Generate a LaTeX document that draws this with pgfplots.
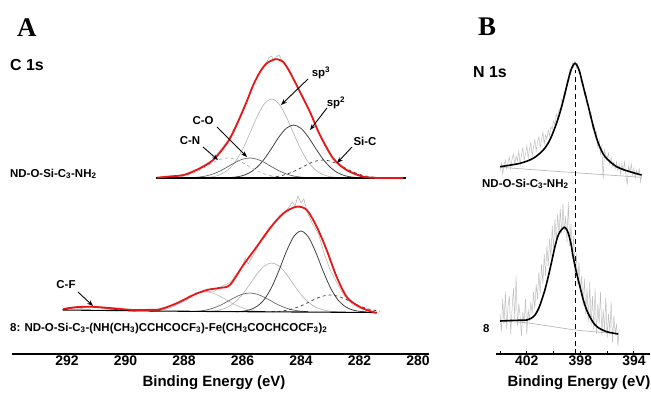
\documentclass[border=0pt]{standalone}
\usepackage{fontspec}
\setmainfont{Liberation Sans}
\newfontfamily\serifbf{Liberation Serif}
\usepackage{pgfplots}
\pgfplotsset{compat=1.18}
\usetikzlibrary{arrows.meta}
\definecolor{fitred}{RGB}{232,22,22}
\begin{document}
\begin{tikzpicture}[x=1bp,y=1bp]
\useasboundingbox (0,0) rectangle (651,393);
% ---------------- Panel A ----------------
\begin{axis}[
  at={(12bp,39bp)}, anchor=south west, scale only axis,
  width=417bp, height=344bp,
  xmin=279.62, xmax=293.88, x dir=reverse,
  ymin=0, ymax=344,
  axis y line=none, axis x line*=bottom,
  x axis line style={-, line width=1.4bp},
  xtick={280,282,...,292}, major tick length=0pt,
  /pgf/number format/assume math mode=true,
  /pgf/number format/1000 sep={},
  xticklabel style={font=\fontsize{14}{16}\selectfont\bfseries, inner sep=1.5bp},
  clip=false,
]
% raw data (top)
\addplot[gray!55, line width=0.6bp] coordinates {(288.9,176.5)(288.5,177.6)(288.0,179.6)(287.5,185.6)(287.0,194.8)(286.5,213.2)(286.2,230.2)(285.86,253)(285.63,269.5)(285.4,282.4)(285.2,290.4)(285.1,296)(285.0,298)(284.95,294)(284.85,297)(284.75,299)(284.65,294)(284.55,290)(284.38,282.5)(284.03,262.6)(283.69,242.3)(283.35,219.6)(282.9,196.2)(282.44,184.6)(281.87,177.5)(281.3,176.3)(280.5,176)};
% components (top)
\addplot[gray!55, line width=0.7bp, smooth] coordinates {(287.25,176.5)(287.0,177.3)(286.75,179.5)(286.5,184)(286.25,192)(286.0,204.4)(285.75,220.5)(285.5,237.2)(285.25,250.1)(285.0,255)(284.75,250.1)(284.5,237.2)(284.25,220.5)(284.0,204.4)(283.75,192)(283.5,184)(283.25,179.5)(283.0,177.3)(282.75,176.5)};
\addplot[black!75, line width=0.8bp, smooth] coordinates {(286.5,176.3)(286.25,176.9)(286.0,178.3)(285.75,181.4)(285.5,186.8)(285.25,195.1)(285.0,205.8)(284.75,217.1)(284.5,225.7)(284.25,229)(284.0,225.7)(283.75,217.1)(283.5,205.8)(283.25,195.1)(283.0,186.8)(282.75,181.4)(282.5,178.3)(282.25,176.9)(282.0,176.3)};
\addplot[black!60, line width=0.7bp, smooth] coordinates {(287.75,176.3)(287.5,176.9)(287.25,178)(287.0,180.1)(286.75,183.2)(286.5,187.3)(286.25,191.5)(286.0,194.8)(285.75,196)(285.5,194.8)(285.25,191.5)(285.0,187.3)(284.75,183.2)(284.5,180.1)(284.25,178)(284.0,176.9)(283.75,176.3)};
\addplot[gray!60, line width=0.7bp, smooth, dashed] coordinates {(288.5,176.3)(288.25,176.9)(288.0,178)(287.75,180.1)(287.5,183.2)(287.25,187.3)(287.0,191.5)(286.75,194.8)(286.5,196)(286.25,194.8)(286.0,191.5)(285.75,187.3)(285.5,183.2)(285.25,180.1)(285.0,178)(284.75,176.9)(284.5,176.3)};
\addplot[black!75, line width=0.7bp, smooth, dashed] coordinates {(285.25,176.3)(285.0,176.8)(284.75,177.8)(284.5,179.7)(284.25,182.5)(284.0,186.1)(283.75,190)(283.5,192.9)(283.25,194)(283.0,192.9)(282.75,190)(282.5,186.1)(282.25,182.5)(282.0,179.7)(281.75,177.8)(281.5,176.8)(281.25,176.3)};
\addplot[black, line width=1.1bp] coordinates {(288.95,176)(280.4,176)};
% envelope (top)
\addplot[fitred, line width=1.8bp, smooth] coordinates {(288.93,176.3)(288.5,177.5)(288.0,179)(287.5,185)(287.0,194)(286.5,212)(286.2,229)(285.86,252)(285.63,269)(285.4,282)(285.17,290.7)(284.89,294.7)(284.72,294)(284.6,292)(284.38,282)(284.03,262)(283.69,242)(283.35,219)(282.9,195.7)(282.44,184)(281.87,177.3)(281.3,176)(280.5,176)};
% raw data (bottom)
\addplot[gray!55, line width=0.6bp] coordinates {(292.1,44)(291.8,46)(291.5,45.5)(291.2,47.5)(290.9,46)(290.6,45)(290.3,43)(290.0,44.5)(289.7,42.5)(289.4,44)(289.1,43)(288.8,45)(288.5,46)(288.2,50)(287.9,54)(287.6,61)(287.3,63)(287.0,62)(286.8,66)(286.6,69)(286.4,72)(286.2,80)(286.0,88)(285.9,96)(285.8,90)(285.6,100)(285.4,112)(285.2,118)(285.0,128)(284.8,134)(284.6,140)(284.4,147)(284.3,152)(284.2,148)(284.1,158)(284.0,151)(283.9,155)(283.8,143)(283.6,130)(283.4,120)(283.2,100)(283.0,84)(282.8,73)(282.6,62)(282.4,54)(282.2,49)(282.0,46)(281.8,44)(281.5,42)(281.4,41)};
% components (bottom)
\addplot[gray!50, line width=0.7bp, smooth] coordinates {(289.25,42.3)(289.0,42.9)(288.75,44)(288.5,46.1)(288.25,49.2)(288.0,53.3)(287.75,57.5)(287.5,60.8)(287.25,62)(287.0,60.8)(286.75,57.5)(286.5,53.3)(286.25,49.2)(286.0,46.1)(285.75,44)(285.5,42.9)(285.25,42.3)};
\addplot[gray!55, line width=0.7bp, smooth] coordinates {(287.25,42.3)(287.0,42.8)(286.75,44.2)(286.5,46.9)(286.25,51.9)(286.0,59.6)(285.75,69.6)(285.5,80)(285.25,88)(285.0,91)(284.75,88)(284.5,80)(284.25,69.6)(284.0,59.6)(283.75,51.9)(283.5,46.9)(283.25,44.2)(283.0,42.8)(282.75,42.3)};
\addplot[black!60, line width=0.7bp, smooth] coordinates {(287.75,42.3)(287.5,42.8)(287.25,43.9)(287.0,45.9)(286.75,48.8)(286.5,52.7)(286.25,56.7)(286.0,59.8)(285.75,61)(285.5,59.8)(285.25,56.7)(285.0,52.7)(284.75,48.8)(284.5,45.9)(284.25,43.9)(284.0,42.8)(283.75,42.3)};
\addplot[black!75, line width=0.8bp, smooth] coordinates {(286.25,42.2)(286.0,42.7)(285.75,44.2)(285.5,47.7)(285.25,54.7)(285.0,66.8)(284.75,83.6)(284.5,102.3)(284.25,117.2)(284.0,123)(283.75,117.2)(283.5,102.3)(283.25,83.6)(283.0,66.8)(282.75,54.7)(282.5,47.7)(282.25,44.2)(282.0,42.7)(281.75,42.2)};
\addplot[black!75, line width=0.7bp, smooth, dashed] coordinates {(285.0,42.3)(284.75,42.7)(284.5,43.7)(284.25,45.5)(284.0,48.1)(283.75,51.6)(283.5,55.2)(283.25,57.9)(283.0,59)(282.75,57.9)(282.5,55.2)(282.25,51.6)(282.0,48.1)(281.75,45.5)(281.5,43.7)(281.3,42.8)};
\addplot[black!80, line width=0.8bp, smooth] coordinates {(292.15,44.3)(291.75,46.3)(291.25,47.3)(290.75,46.2)(290.25,44.2)(289.75,43.4)};
\addplot[black, line width=1.1bp] coordinates {(292.15,44)(290.5,43.5)(289,43)(287,42.5)(284,42)(281.4,41.5)};
% envelope (bottom)
\addplot[fitred, line width=1.8bp, smooth] coordinates {(292.13,45)(291.7,46.8)(291.21,47.3)(290.8,46.6)(290.42,45.7)(289.73,44)(289.2,44.2)(288.82,44.7)(288.25,50.7)(287.68,59)(287.22,64)(286.8,66)(286.43,69)(285.97,89)(285.51,107.3)(285.06,125.7)(284.6,140.7)(284.15,147.3)(283.8,144)(283.46,127.3)(283.12,104)(282.78,77.3)(282.44,57.3)(282.1,49)(281.75,44)(281.41,41)};
\end{axis}
% ---------------- Panel B ----------------
\begin{axis}[
  at={(496bp,39bp)}, anchor=south west, scale only axis,
  width=154bp, height=344bp,
  xmin=392.8, xmax=404.3, x dir=reverse,
  ymin=0, ymax=344,
  axis y line=none, axis x line*=bottom,
  x axis line style={-, line width=1.4bp},
  xtick={394,396,...,404}, xticklabels={394,,398,,402,},
  tick align=inside, major tick length=3bp,
  every tick/.style={black, line width=1bp},
  xticklabel style={font=\fontsize{14}{16}\selectfont\bfseries, inner sep=1.5bp},
  clip=false,
]
% raw (top)
\addplot[gray!50, line width=0.5bp] coordinates {(404.0,183)(403.9,191)(403.8,180)(403.7,189)(403.6,194)(403.5,185)(403.4,192)(403.3,197)(403.2,186)(403.1,195)(403.0,200)(402.9,190)(402.8,198)(402.7,193)(402.6,203)(402.5,189)(402.4,199)(402.3,206)(402.2,194)(402.1,200)(402.0,208)(401.9,196)(401.8,205)(401.7,211)(401.6,198)(401.5,207)(401.4,214)(401.3,203)(401.2,212)(401.1,217)(401.0,207)(400.9,214)(400.8,222)(400.7,210)(400.6,219)(400.5,215)(400.4,224)(400.3,218)(400.2,227)(400.1,225)(400.0,233)(399.9,229)(399.8,240)(399.7,236)(399.6,245)(399.5,243)(399.4,255)(399.3,252)(399.2,263)(399.1,259)(399.0,272)(398.9,276)(398.8,284)(398.7,280)(398.6,291)(398.5,287)(398.4,293)(398.3,286)(398.2,290)(398.1,281)(398.0,283)(397.9,270)(397.8,272)(397.7,259)(397.6,262)(397.5,249)(397.4,250)(397.3,238)(397.2,241)(397.1,226)(397.0,230)(396.9,218)(396.8,222)(396.7,207)(396.6,214)(396.5,200)(396.4,208)(396.3,175)(396.2,204)(396.1,199)(396.0,196)(395.9,201)(395.8,189)(395.7,196)(395.6,188)(395.5,192)(395.4,185)(395.3,192)(395.2,183)(395.1,190)(395.0,180)(394.9,190)(394.8,183)(394.7,192)(394.6,178)(394.5,170)(394.4,188)(394.3,182)(394.2,190)(394.1,179)(394.0,186)(393.9,176)(393.8,184)(393.7,179)(393.6,185)(393.5,172)(393.4,181)};
\addplot[gray!55, line width=0.7bp] coordinates {(404.0,186.7)(398.4,181.3)(393.45,176.7)};
\addplot[black, line width=1.6bp, smooth] coordinates {(404.0,187.3)(402.5,190.7)(401.52,195.7)(400.77,204)(400.28,214)(399.78,230.7)(399.4,247.3)(399.03,267.3)(398.7,284)(398.4,290.7)(398.1,284)(397.78,267.3)(397.4,247.3)(397.03,227.3)(396.66,210.7)(396.16,197.3)(395.29,187.3)(394.3,182.3)(393.43,179)};
% raw (bottom)
\addplot[gray!50, line width=0.5bp] coordinates {(404.0,40)(403.9,22)(403.8,55)(403.7,30)(403.6,62)(403.5,25)(403.4,48)(403.3,58)(403.2,20)(403.1,45)(403.0,66)(402.9,35)(402.8,78)(402.7,28)(402.6,50)(402.5,38)(402.4,18)(402.3,42)(402.2,30)(402.1,55)(402.0,20)(401.9,45)(401.8,33)(401.7,52)(401.6,40)(401.5,62)(401.4,45)(401.3,70)(401.2,55)(401.1,82)(401.0,60)(400.9,90)(400.8,70)(400.7,100)(400.6,78)(400.5,108)(400.4,88)(400.3,115)(400.2,96)(400.1,128)(400.0,105)(399.9,135)(399.8,112)(399.7,140)(399.6,118)(399.5,145)(399.4,120)(399.3,150)(399.2,122)(399.1,138)(399.0,112)(398.9,152)(398.8,108)(398.7,130)(398.6,95)(398.5,118)(398.4,80)(398.3,100)(398.2,70)(398.1,92)(398.0,62)(397.9,78)(397.8,48)(397.7,75)(397.6,40)(397.5,66)(397.4,32)(397.3,72)(397.2,28)(397.1,58)(397.0,24)(396.9,66)(396.8,20)(396.7,50)(396.6,30)(396.5,62)(396.4,18)(396.3,45)(396.2,24)(396.1,57)(396.0,16)(395.9,40)(395.8,22)(395.7,52)(395.6,12)(395.5,38)(395.4,20)(395.3,30)(395.2,8)(395.1,25)};
\addplot[gray!55, line width=0.7bp] coordinates {(404.0,33)(402.0,31.3)(398.4,24)(395.17,20)};
\addplot[black, line width=1.6bp, smooth] coordinates {(404.0,33)(403.0,33.6)(402.0,34)(401.7,35.5)(401.39,39)(401.1,46)(400.89,54)(400.65,64)(400.4,77.3)(400.15,92)(399.9,107.3)(399.7,117)(399.52,122.3)(399.22,126.7)(399.05,125)(398.9,120.7)(398.7,110)(398.54,97.3)(398.3,82)(398.03,67.3)(397.8,55)(397.53,44)(397.2,35)(396.9,29)(396.5,25)(396.04,22.3)(395.6,21)(395.17,20)};
% reference line
\addplot[black, line width=1.5bp, dash pattern=on 5bp off 3.5bp] coordinates {(398.35,0)(398.35,284)};
\end{axis}
% ---------------- Text ----------------
\node[anchor=base west, inner sep=0] at (17,357) {\fontsize{27}{30}\selectfont\serifbf\bfseries A};
\node[anchor=base west, inner sep=0] at (478,358) {\fontsize{27}{30}\selectfont\serifbf\bfseries B};
\node[anchor=base west, inner sep=0] at (10,323) {\fontsize{16}{19}\selectfont\bfseries C 1s};
\node[anchor=base west, inner sep=0] at (473,316) {\fontsize{16}{19}\selectfont\bfseries N 1s};
\begin{scope}[every node/.style={inner sep=0, font=\fontsize{11.5}{13}\selectfont\bfseries}]
\node[anchor=base west] at (10,216) {ND-O-Si-C\textsubscript{3}-NH\textsubscript{2}};
\node[anchor=base west] at (482,206) {ND-O-Si-C\textsubscript{3}-NH\textsubscript{2}};
\node[anchor=base west] at (10,62) {8: ND-O-Si-C\textsubscript{3}-(NH(CH\textsubscript{3})CCHCOCF\textsubscript{3})-Fe(CH\textsubscript{3}COCHCOCF\textsubscript{3})\textsubscript{2}};
\node[anchor=base west] at (483,61) {8};
\node at (321,320) {sp\textsuperscript{3}};
\node at (336,290) {sp\textsuperscript{2}};
\node at (365,252) {Si-C};
\node at (203,272) {C-O};
\node at (190,252) {C-N};
\node at (66,108) {C-F};
\end{scope}
\begin{scope}[line width=0.9bp, -{Stealth[length=6bp,width=4.5bp]}]
\draw (308,314) -- (281,288);
\draw (327,285) -- (310,263);
\draw (352,246) -- (337,230);
\draw (217,266) -- (247,236);
\draw (203,246) -- (218,233);
\draw (78,101) -- (93,87);
\end{scope}
\node[anchor=base, inner sep=0] at (214,7) {\fontsize{15}{18}\selectfont\bfseries Binding Energy (eV)};
\node[anchor=base, inner sep=0] at (579,7) {\fontsize{15}{18}\selectfont\bfseries Binding Energy (eV)};
\end{tikzpicture}
\end{document}
